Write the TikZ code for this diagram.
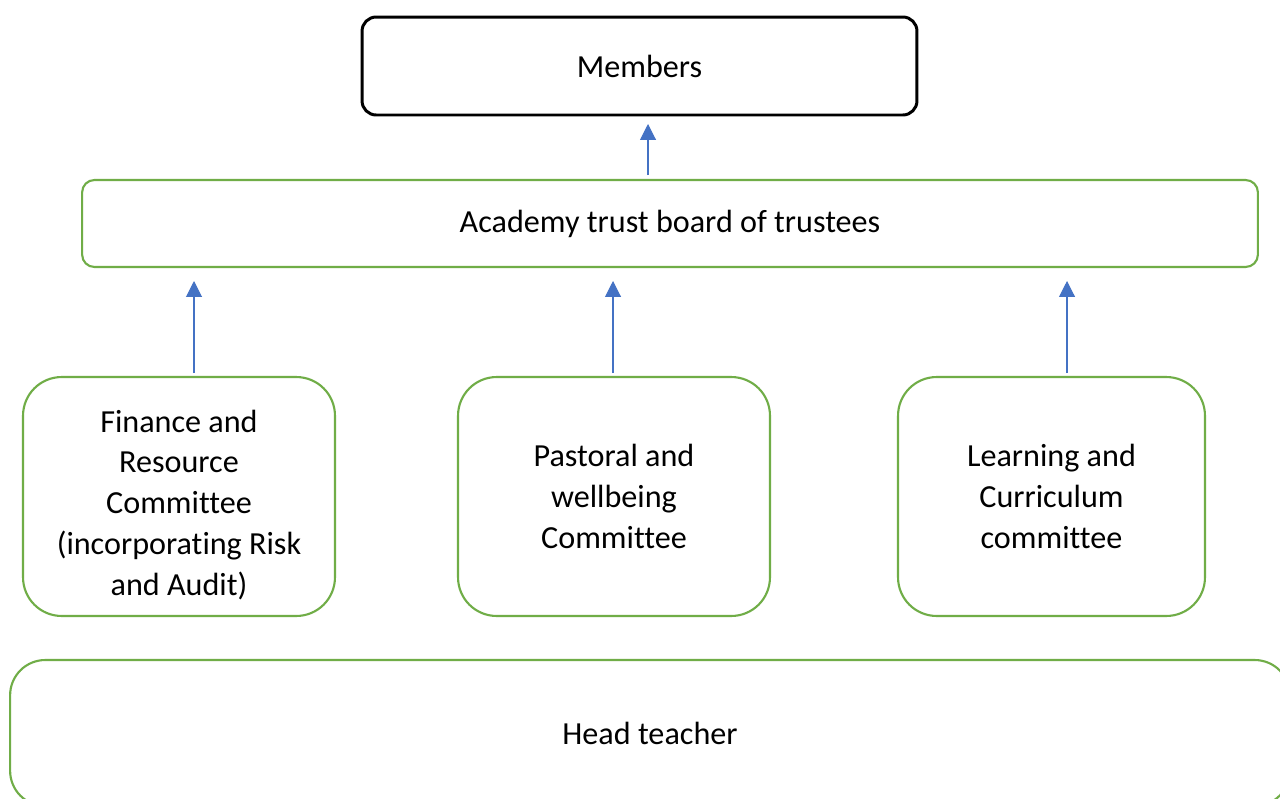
\documentclass[tikz,border=0pt]{standalone}
\usepackage{fontspec}
\setmainfont{Carlito}[Ligatures=NoCommon]
\usetikzlibrary{arrows.meta}
\definecolor{boxgreen}{HTML}{70AD47}
\definecolor{arrowblue}{HTML}{4472C4}

\begin{document}
\begin{tikzpicture}[x=0.02cm, y=-0.02cm,
    font=\fontsize{18.3}{23.2}\selectfont,
    topbox/.style={draw=black, line width=1.7pt, rounded corners=8pt, inner sep=0pt},
    trustbox/.style={draw=boxgreen, line width=1.2pt, rounded corners=7pt, inner sep=0pt},
    commbox/.style={draw=boxgreen, line width=1.2pt, rounded corners=22pt, inner sep=0pt,
        minimum height=4.78cm, align=center},
    uparrow/.style={draw=arrowblue, line width=0.6pt, -{Triangle[width=9pt, length=9pt]}}]
            \useasboundingbox (0, 0) rectangle (1280, 798);
            \clip (0, 0) rectangle (1280, 798);
            \fill[white] (0, 0) rectangle (1280, 798);
            \node[topbox, minimum width=11.1cm, minimum height=1.96cm] (M) at (639.5, 66) {Members};
            \node[trustbox, minimum width=23.52cm, minimum height=1.74cm] (T) at (670, 223.5) {Academy trust board of trustees};
            \node[commbox, minimum width=6.24cm] (F) at (179, 496.5) {\rule{0pt}{22pt}Finance and\\Resource\\Committee\\(incorporating Risk\\and Audit)};
            \node[commbox, minimum width=6.24cm] (P) at (614, 496.5) {Pastoral and\\wellbeing\\Committee};
            \node[commbox, minimum width=6.14cm] (L) at (1051.5, 496.5) {Learning and\\Curriculum\\committee};
            \node[trustbox, rounded corners=20pt, minimum width=25.6cm, minimum height=2.92cm] (H) at (650, 733) {Head teacher};
            \coordinate (Tm) at (648, 175);
            \coordinate (Mb) at (648, 124);
            \coordinate (Fa) at (194, 373);
            \coordinate (Fb) at (194, 281);
            \coordinate (Pa) at (613, 373);
            \coordinate (Pb) at (613, 281);
            \coordinate (La) at (1067, 373);
            \coordinate (Lb) at (1067, 281);
            \path[uparrow] (Tm) -- (Mb);
            \path[uparrow] (Fa) -- (Fb);
            \path[uparrow] (Pa) -- (Pb);
            \path[uparrow] (La) -- (Lb);
        \end{tikzpicture}
\end{document}
